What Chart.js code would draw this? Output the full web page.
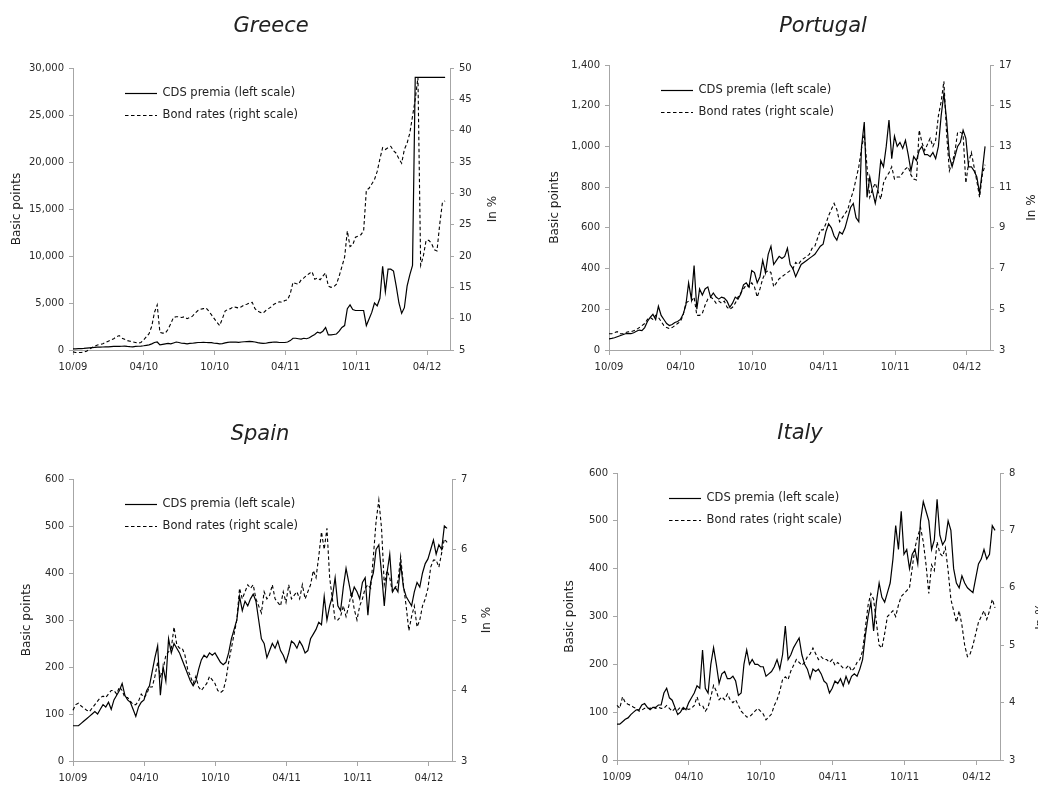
<!DOCTYPE html>
<html>
<head>
<meta charset="utf-8">
<script src="https://cdn.jsdelivr.net/npm/chart.js@4.4.1/dist/chart.umd.min.js"></script>
<style>
  html, body { margin: 0; padding: 0; background: #fff; overflow: hidden; width: 1038px; height: 785px; }
  canvas { position: absolute; left: 0; top: 0; }
</style>
</head>
<body>
<canvas id="greece" width="1120" height="785"></canvas>
<canvas id="portugal" width="1120" height="785"></canvas>
<canvas id="spain" width="1120" height="785"></canvas>
<canvas id="italy" width="1120" height="785"></canvas>
<script>
// weekly observations, week 0 = start of Oct 2009
var TICK_WEEKS = [0, 26.07, 52.14, 78.21, 104.29, 130.36];
var TICK_LABELS = ['10/09', '04/10', '10/10', '04/11', '10/11', '04/12'];

var GREECE_CDS = [
  130, 130, 140, 150, 170, 200, 230, 260, 280, 300,
  300, 320, 330, 340, 360, 380, 400, 380, 400, 420,
  380, 350, 330, 380, 400, 420, 450, 500, 550, 650,
  800, 850, 550, 600, 650, 700, 650, 750, 850, 800,
  720, 700, 650, 700, 720, 760, 800, 800, 810, 800,
  790, 780, 720, 700, 650, 680, 750, 820, 850, 840,
  830, 820, 850, 880, 900, 920, 900, 850, 780, 740,
  700, 720, 780, 820, 850, 830, 800, 800, 800, 850,
  1000, 1250, 1250, 1200, 1150, 1250, 1200, 1300, 1500, 1650,
  1900, 1800, 2000, 2400, 1600, 1600, 1650, 1700, 2000, 2400,
  2600, 4400, 4800, 4300, 4200, 4200, 4200, 4200, 2600, 3300,
  4000, 5000, 4700, 5500, 8900, 6200, 8600, 8600, 8400, 6800,
  5000, 3900, 4500, 6800, 8000, 9000, 29000, 29000, 29000, 29000,
  29000, 29000, 29000, 29000, 29000, 29000, 29000, 29000
];
var GREECE_BOND = [
  4.7, 4.6, 4.6, 4.6, 4.7, 4.8, 5.1, 5.4, 5.6, 5.8,
  5.9, 6.0, 6.2, 6.4, 6.6, 6.8, 7.1, 7.3, 6.9, 6.7,
  6.5, 6.4, 6.3, 6.2, 6.1, 6.2, 6.6, 7.1, 7.6, 8.8,
  11.0, 12.2, 7.8, 7.7, 7.7, 8.3, 9.2, 10.2, 10.3, 10.3,
  10.2, 10.3, 10.0, 10.2, 10.4, 10.9, 11.3, 11.5, 11.6, 11.7,
  11.2, 10.6, 10.0, 9.4, 8.9, 10.0, 11.2, 11.5, 11.6, 11.9,
  11.8, 11.7, 11.9, 12.2, 12.3, 12.5, 12.6, 11.6, 11.2, 11.0,
  10.9, 11.3, 11.6, 11.9, 12.3, 12.5, 12.7, 12.6, 12.9, 13.0,
  14.0, 15.8, 15.6, 15.5, 16.2, 16.5, 16.9, 17.2, 17.5, 16.3,
  16.5, 16.2, 16.8, 17.3, 15.2, 15.0, 15.1, 15.5, 16.8, 18.3,
  19.8, 24.0, 21.5, 21.8, 23.0, 23.2, 23.4, 24.0, 30.5, 30.8,
  31.5, 32.2, 33.5, 35.5, 37.3, 37.0, 37.3, 37.5, 36.8, 36.4,
  35.5, 34.8, 37.0, 38.0, 39.6, 42.3, 45.0, 48.5, 18.5, 20.0,
  22.5, 22.5, 22.0, 21.0, 20.8, 25.0, 28.5, 28.8
];

var PORTUGAL_CDS = [
  55, 57, 60, 65, 70, 75, 80, 82, 80, 85,
  92, 98, 95, 110, 140, 160, 175, 150, 215, 170,
  150, 130, 120, 125, 135, 140, 150, 175, 220, 330,
  250, 415, 200, 300, 270, 300, 310, 260, 280, 260,
  250, 260, 255, 240, 210, 230, 260, 250, 275, 320,
  330, 310, 390, 380, 330, 360, 440, 380, 470, 510,
  420, 440, 460, 450, 460, 500, 420, 400, 360, 390,
  420, 430, 440, 450, 460, 470, 490, 510, 520, 580,
  620, 600, 560, 540, 580, 570, 600, 650, 700, 720,
  650, 630, 1000, 1120, 750, 850, 780, 720, 790, 930,
  900, 1000, 1130, 940, 1050, 1000, 1020, 990, 1030, 960,
  880, 950, 930, 980, 1000, 960, 960, 950, 970, 940,
  1000, 1150, 1260, 1130, 950, 900, 950, 1000, 1020, 1080,
  1040, 900, 900, 880, 850, 770, 880, 1000
];
var PORTUGAL_BOND = [
  3.8, 3.8, 3.85, 3.9, 3.8, 3.8, 3.85, 3.9, 3.9, 3.95,
  4.0, 4.1, 4.2, 4.3, 4.5, 4.6, 4.5, 4.7, 4.6, 4.4,
  4.2, 4.1, 4.05, 4.1, 4.2, 4.3, 4.4, 4.7, 5.3, 5.4,
  5.4, 5.6, 4.7, 4.7, 4.8, 5.2, 5.5, 5.6, 5.5, 5.3,
  5.4, 5.3, 5.4, 5.1, 5.0, 5.1, 5.3, 5.6, 5.8, 6.0,
  6.2, 6.1, 6.3, 6.1, 5.6, 6.0, 6.5, 6.8, 6.9, 6.8,
  6.1, 6.3, 6.5, 6.6, 6.7, 6.8, 6.9, 7.0, 7.3, 7.2,
  7.4, 7.5, 7.6, 7.7, 8.0, 8.1, 8.5, 8.9, 8.9, 9.2,
  9.6, 9.9, 10.2, 9.9, 9.3, 9.5, 9.7, 9.9, 10.4, 10.8,
  11.4, 12.0, 12.9, 13.6, 12.0, 10.5, 10.9, 11.2, 10.8, 10.4,
  11.2, 11.5, 11.7, 12.0, 11.4, 11.5, 11.5, 11.7, 11.9, 12.0,
  11.6, 11.4, 11.35, 13.8, 13.2, 12.8, 13.1, 13.4, 13.0, 13.3,
  14.5, 15.2, 16.2, 13.6, 11.8, 12.2, 12.7, 13.7, 13.7, 13.6,
  11.2, 12.2, 12.7, 12.0, 11.3, 10.5, 11.6, 12.1
];

var SPAIN_CDS = [
  75, 75, 75, 80, 85, 90, 95, 100, 105, 100,
  110, 120, 115, 125, 110, 130, 140, 150, 165, 140,
  130, 125, 110, 95, 115, 125, 130, 150, 160, 190,
  220, 245, 140, 200, 170, 260, 230, 250, 240, 230,
  215, 200, 185, 170, 160, 170, 195, 215, 225, 220,
  230, 225, 230, 220, 210, 205, 210, 230, 260, 280,
  300, 350, 320, 340, 330, 345, 355, 340, 300, 260,
  250, 220, 235, 250, 240, 255, 235, 225, 210, 230,
  255, 250, 240, 255, 245, 230, 235, 260, 270, 280,
  295, 290, 350, 300, 330, 350, 390, 330, 320, 370,
  410, 380, 350, 370, 360, 345, 380, 390, 310, 380,
  400, 450, 460, 400, 330, 400, 440, 360, 370, 360,
  420, 370, 350, 340, 330, 360, 380, 370, 400, 420,
  430, 450, 470, 440, 460, 450, 500, 495
];
var SPAIN_BOND = [
  3.72, 3.8, 3.82, 3.78, 3.75, 3.72, 3.7, 3.75, 3.8, 3.85,
  3.9, 3.92, 3.9, 3.95, 4.0, 4.0, 3.95, 4.05, 4.0, 3.9,
  3.9, 3.85, 3.8, 3.8, 3.85, 3.95, 3.9, 3.95, 4.05, 4.05,
  4.2, 4.4, 4.2, 4.3, 4.5, 4.55, 4.6, 4.9, 4.65, 4.6,
  4.6, 4.5, 4.3, 4.2, 4.1, 4.2, 4.05, 4.0, 4.05, 4.1,
  4.2, 4.15, 4.1, 4.0, 3.97, 4.0, 4.15, 4.4, 4.6, 4.8,
  5.0, 5.45, 5.3, 5.4, 5.5, 5.45, 5.5, 5.3, 5.2, 5.1,
  5.4, 5.3, 5.35, 5.5, 5.3, 5.25, 5.2, 5.4, 5.25, 5.5,
  5.3, 5.35, 5.4, 5.3, 5.5, 5.3, 5.4, 5.5, 5.7, 5.6,
  5.9, 6.25, 6.0, 6.3, 5.6, 5.3, 5.0, 5.0, 5.05, 5.2,
  5.05, 5.2, 5.4, 5.15, 5.0, 5.2, 5.3, 5.45, 5.5, 5.45,
  5.9, 6.4, 6.7, 6.3, 5.5, 5.7, 5.6, 5.4, 5.45, 5.55,
  5.9, 5.5, 5.2, 4.85, 5.05, 5.2, 4.9, 5.0, 5.2, 5.3,
  5.45, 5.75, 5.85, 5.85, 5.75, 5.95, 6.15, 6.1
];

var ITALY_CDS = [
  75, 75, 80, 85, 88, 95, 100, 105, 105, 115,
  118, 110, 105, 110, 110, 115, 115, 140, 150, 130,
  125, 110, 95, 100, 110, 105, 120, 130, 140, 155,
  150, 230, 150, 140, 200, 235, 200, 160, 180, 185,
  170, 170, 175, 165, 135, 140, 200, 230, 200, 210,
  200, 200, 195, 195, 175, 180, 185, 195, 210, 190,
  220, 280, 210, 220, 235, 245, 255, 220, 200, 190,
  170, 190, 185, 190, 180, 165, 160, 140, 150, 165,
  160, 170, 155, 175, 160, 175, 180, 175, 190, 210,
  260, 300, 330, 270, 330, 370, 340, 330, 350, 370,
  420, 490, 440, 520, 430, 440, 400, 430, 440, 410,
  500, 540, 520, 500, 440, 460, 545, 470, 450, 460,
  500, 480, 400, 370, 360, 385, 370, 360, 355, 350,
  380, 410, 420, 440, 420, 430, 490, 480
];
var ITALY_BOND = [
  3.95, 3.9, 4.1, 4.0, 3.97, 3.95, 3.92, 3.9, 3.85, 3.87,
  3.9, 3.9, 3.9, 3.92, 3.9, 3.92, 3.9, 3.9, 3.95, 3.9,
  3.85, 3.9, 3.87, 3.92, 3.88, 3.9, 3.88, 3.9, 3.95, 4.1,
  3.95, 3.95, 3.85, 3.92, 4.1, 4.3, 4.2, 4.05, 4.1, 4.05,
  4.15, 4.05, 4.0, 4.05, 3.95, 3.85, 3.8, 3.75, 3.75, 3.8,
  3.85, 3.9, 3.85, 3.8, 3.7, 3.75, 3.8, 3.95, 4.05, 4.2,
  4.4, 4.45, 4.4, 4.55, 4.65, 4.75, 4.7, 4.65, 4.7, 4.8,
  4.85, 4.95, 4.85, 4.75, 4.8, 4.75, 4.75, 4.7, 4.75, 4.65,
  4.7, 4.65, 4.6, 4.6, 4.65, 4.55, 4.6, 4.7, 4.75, 4.9,
  5.3, 5.7, 5.9, 5.8, 5.4, 5.0, 4.95, 5.2, 5.5, 5.55,
  5.6, 5.5, 5.7, 5.85, 5.9, 5.95, 6.0, 6.35, 6.7, 6.9,
  7.05, 6.8, 6.4, 5.9, 6.4, 6.3, 6.8, 6.6, 6.55, 6.7,
  6.3, 5.8, 5.6, 5.4, 5.6, 5.35, 5.0, 4.8, 4.85, 5.0,
  5.2, 5.4, 5.5, 5.6, 5.45, 5.6, 5.8, 5.65
];

// axis ranges: [min, max, step]
var GREECE_LEFT = [0, 30000, 5000], GREECE_RIGHT = [5, 50, 5];
var PORTUGAL_LEFT = [0, 1400, 200], PORTUGAL_RIGHT = [3, 17, 2];
var SPAIN_LEFT = [0, 600, 100], SPAIN_RIGHT = [3, 7, 1];
var ITALY_LEFT = [0, 600, 100], ITALY_RIGHT = [3, 8, 1];

var WEEKS = GREECE_CDS.map(function (v, i) { return i; });
var X_MAX = 138.8;

var CW = 1120, CH = 785;
var GREY = '#a6a6a6';
var TEXT = '#222';
var FONT = '"DejaVu Sans", sans-serif';

Chart.defaults.font.family = FONT;
Chart.defaults.font.size = 10;
Chart.defaults.color = '#2a2a2a';

// legend inside the plot (line samples keep the dash) + right axis title read bottom-to-top
var panelExtras = {
  id: 'panelExtras',
  afterDraw: function (chart, args, o) {
    var ctx = chart.ctx, ca = chart.chartArea;
    ctx.save();
    ctx.font = '11.5px ' + FONT;
    ctx.fillStyle = TEXT;
    ctx.textBaseline = 'middle';
    ctx.textAlign = 'left';
    chart.data.datasets.forEach(function (ds, i) {
      var x = ca.left + o.legendX;
      var y = Math.round(ca.top + o.legendY + i * o.legendGap) + 0.5;
      ctx.strokeStyle = ds.borderColor;
      ctx.lineWidth = ds.borderWidth;
      ctx.setLineDash(ds.borderDash || []);
      ctx.beginPath();
      ctx.moveTo(x, y);
      ctx.lineTo(x + 32, y);
      ctx.stroke();
      ctx.fillText(ds.label, x + 37.5, y);
    });
    ctx.setLineDash([]);
    ctx.translate(o.rightTitleX, (ca.top + ca.bottom) / 2);
    ctx.rotate(-Math.PI / 2);
    ctx.font = '12px ' + FONT;
    ctx.textAlign = 'center';
    ctx.fillText(o.rightTitle, 0, 0);
    ctx.restore();
  }
};

function axisGrid(len) {
  return { drawOnChartArea: false, drawTicks: true, tickLength: len, color: GREY, lineWidth: 1 };
}

function makePanel(p) {
  var a = p.area; // plot area in page pixels: left, top, right, bottom
  var wl = 70;
  var wr = wl + 2 * p.titlePos[0] - a[0] - a[2];

  new Chart(document.getElementById(p.id), {
    type: 'line',
    data: {
      labels: WEEKS,
      datasets: [
        {
          label: 'CDS premia (left scale)',
          data: p.cds,
          yAxisID: 'y',
          borderColor: '#000',
          borderWidth: 1.2,
          pointRadius: 0,
          tension: 0,
          clip: false
        },
        {
          label: 'Bond rates (right scale)',
          data: p.bond,
          yAxisID: 'y1',
          borderColor: '#000',
          borderWidth: 1.1,
          borderDash: [3.5, 2.5],
          pointRadius: 0,
          tension: 0,
          clip: false
        }
      ]
    },
    options: {
      responsive: false,
      animation: false,
      events: [],
      layout: {
        autoPadding: false,
        padding: {
          left: a[0] - wl,
          right: CW - a[2] - wr,
          top: p.titlePos[1] - 22.6,
          bottom: CH - a[3] - 20
        }
      },
      plugins: {
        title: {
          display: true,
          text: p.name,
          color: TEXT,
          font: { size: 21, style: 'italic', weight: 'normal' },
          padding: { top: 10, bottom: a[1] - p.titlePos[1] - 12.6 }
        },
        legend: { display: false },
        tooltip: { enabled: false },
        panelExtras: { legendX: 52, legendY: 24.5, legendGap: 22, rightTitle: 'In %', rightTitleX: p.rightTitleX }
      },
      scales: {
        x: {
          type: 'linear',
          min: 0,
          max: X_MAX,
          afterBuildTicks: function (s) {
            s.ticks = TICK_WEEKS.map(function (v) { return { value: v }; });
          },
          afterFit: function (s) { s.height = 20; },
          ticks: {
            autoSkip: false,
            maxRotation: 0,
            padding: 6,
            callback: function (v, i) { return TICK_LABELS[i]; }
          },
          grid: axisGrid(5),
          border: { color: GREY }
        },
        y: {
          position: 'left',
          min: p.left[0],
          max: p.left[1],
          afterFit: function (s) { s.width = wl; },
          ticks: {
            stepSize: p.left[2],
            padding: 5,
            callback: function (v) { return v.toLocaleString('en-US'); }
          },
          title: {
            display: true,
            text: 'Basic points',
            color: TEXT,
            font: { size: 12 },
            padding: { top: p.leftTitleX - (a[0] - wl) - 7.2, bottom: 0 }
          },
          grid: axisGrid(4),
          border: { color: GREY }
        },
        y1: {
          position: 'right',
          min: p.right[0],
          max: p.right[1],
          afterFit: function (s) { s.width = wr; },
          ticks: { stepSize: p.right[2], padding: 5 },
          grid: axisGrid(4),
          border: { color: GREY }
        }
      }
    },
    plugins: [panelExtras]
  });
}

makePanel({ id: 'greece', name: 'Greece', cds: GREECE_CDS, bond: GREECE_BOND,
  left: GREECE_LEFT, right: GREECE_RIGHT,
  area: [73, 68, 450, 350], titlePos: [271, 27], leftTitleX: 17, rightTitleX: 493 });
makePanel({ id: 'portugal', name: 'Portugal', cds: PORTUGAL_CDS, bond: PORTUGAL_BOND,
  left: PORTUGAL_LEFT, right: PORTUGAL_RIGHT,
  area: [609, 65, 990, 350], titlePos: [823, 27], leftTitleX: 555, rightTitleX: 1032 });
makePanel({ id: 'spain', name: 'Spain', cds: SPAIN_CDS, bond: SPAIN_BOND,
  left: SPAIN_LEFT, right: SPAIN_RIGHT,
  area: [73, 479, 452, 761], titlePos: [260, 435], leftTitleX: 27, rightTitleX: 487 });
makePanel({ id: 'italy', name: 'Italy', cds: ITALY_CDS, bond: ITALY_BOND,
  left: ITALY_LEFT, right: ITALY_RIGHT,
  area: [617, 473, 1000, 760], titlePos: [800, 434], leftTitleX: 570, rightTitleX: 1041 });
</script>
</body>
</html>
